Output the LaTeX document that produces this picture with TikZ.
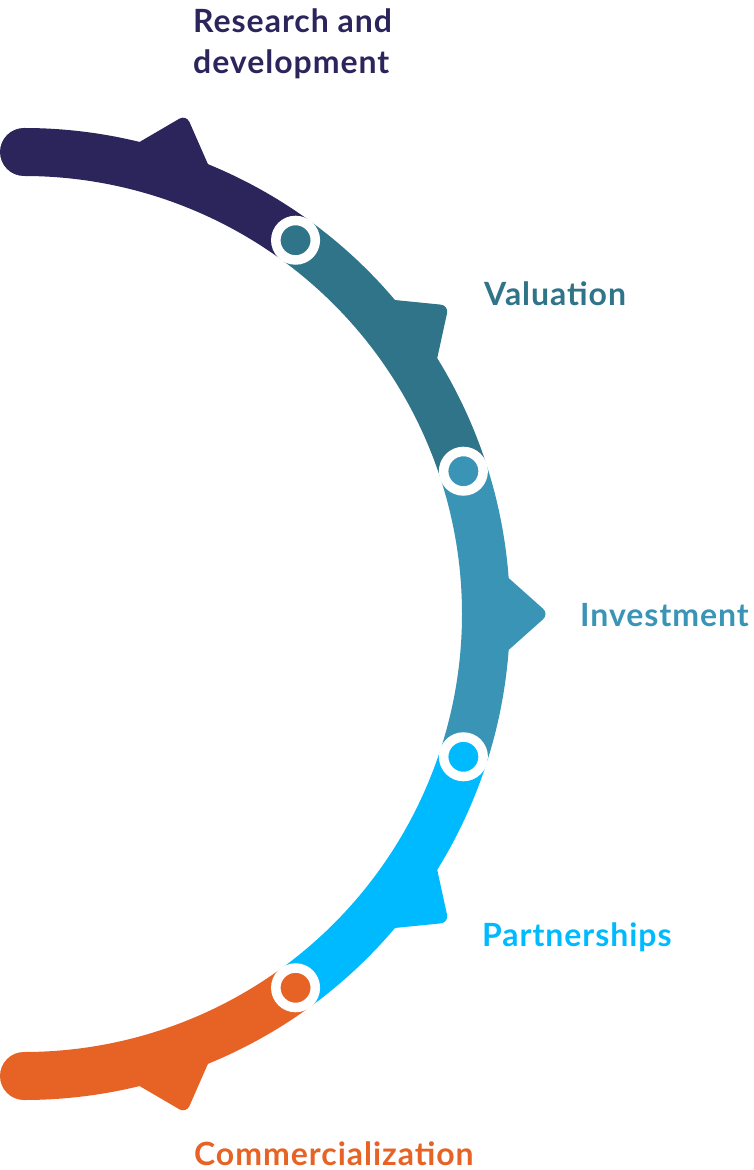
\documentclass[tikz,border=0pt]{standalone}
\usepackage{fontspec}
\setmainfont{Lato}[LetterSpace=3]
\usepackage{tikz}

\definecolor{rdcolor}{HTML}{2B255C}
\definecolor{valcolor}{HTML}{2F7489}
\definecolor{invcolor}{HTML}{3A94B6}
\definecolor{parcolor}{HTML}{00BAFF}
\definecolor{comcolor}{HTML}{E66325}

\begin{document}
\begin{tikzpicture}[x=1pt, y=1pt]
        % Define styles
        \tikzstyle{segment} = [line width=48pt]
        \tikzstyle{marker} = [circle, draw=white, line width=9.5pt, minimum size=39.5pt, inner sep=0pt]
        \tikzstyle{barb} = [rounded corners=8pt]
        \tikzstyle{label} = [font=\bfseries\fontsize{32}{41}\selectfont, anchor=base west, inner sep=0pt]

        \useasboundingbox (-24,-556) rectangle (730,614);

        % Points on the ring
        \coordinate (RD_End) at (90:462);
        \coordinate (Val_Mark) at (54:462);
        \coordinate (Inv_Mark) at (18:462);
        \coordinate (Par_Mark) at (-18:462);
        \coordinate (Com_Mark) at (-54:462);
        \coordinate (Com_End) at (-90:462);

        % Ring segments
        \draw [segment, line cap=round, rdcolor] (RD_End) arc [start angle=90, end angle=54, radius=462];
        \draw [segment, line cap=round, comcolor] (Com_Mark) arc [start angle=-54, end angle=-90, radius=462];
        \draw [segment, valcolor] (Val_Mark) arc [start angle=54, end angle=18, radius=462];
        \draw [segment, invcolor] (Inv_Mark) arc [start angle=18, end angle=-18, radius=462];
        \draw [segment, parcolor] (Par_Mark) arc [start angle=-18, end angle=-54, radius=462];

        % Arrow barbs
        \fill [barb, rdcolor] (77.5:476) -- (72:525) -- (66.5:476) -- cycle;
        \fill [barb, valcolor] (41.5:476) -- (36:525) -- (30.5:476) -- cycle;
        \fill [barb, invcolor] (5.5:476) -- (0:525) -- (-5.5:476) -- cycle;
        \fill [barb, parcolor] (-30.5:476) -- (-36:525) -- (-41.5:476) -- cycle;
        \fill [barb, comcolor] (-66.5:476) -- (-72:525) -- (-77.5:476) -- cycle;

        % Markers
        \node [marker, fill=valcolor] (Val_Ring) at (Val_Mark) {};
        \node [marker, fill=invcolor] (Inv_Ring) at (Inv_Mark) {};
        \node [marker, fill=parcolor] (Par_Ring) at (Par_Mark) {};
        \node [marker, fill=comcolor] (Com_Ring) at (Com_Mark) {};

        % Labels
        \node [label, rdcolor] (Research) at (169,581) {Research and};
        \node [label, rdcolor] (Development) at (169,540) {development};
        \node [label, valcolor] (Valuation) at (460,308) {Valuation};
        \node [label, invcolor] (Investment) at (556,-12) {Investment};
        \node [label, parcolor] (Partnerships) at (458,-332) {Partnerships};
        \node [label, comcolor] (Commercialization) at (170,-551) {Commercialization};
    \end{tikzpicture}
\end{document}
